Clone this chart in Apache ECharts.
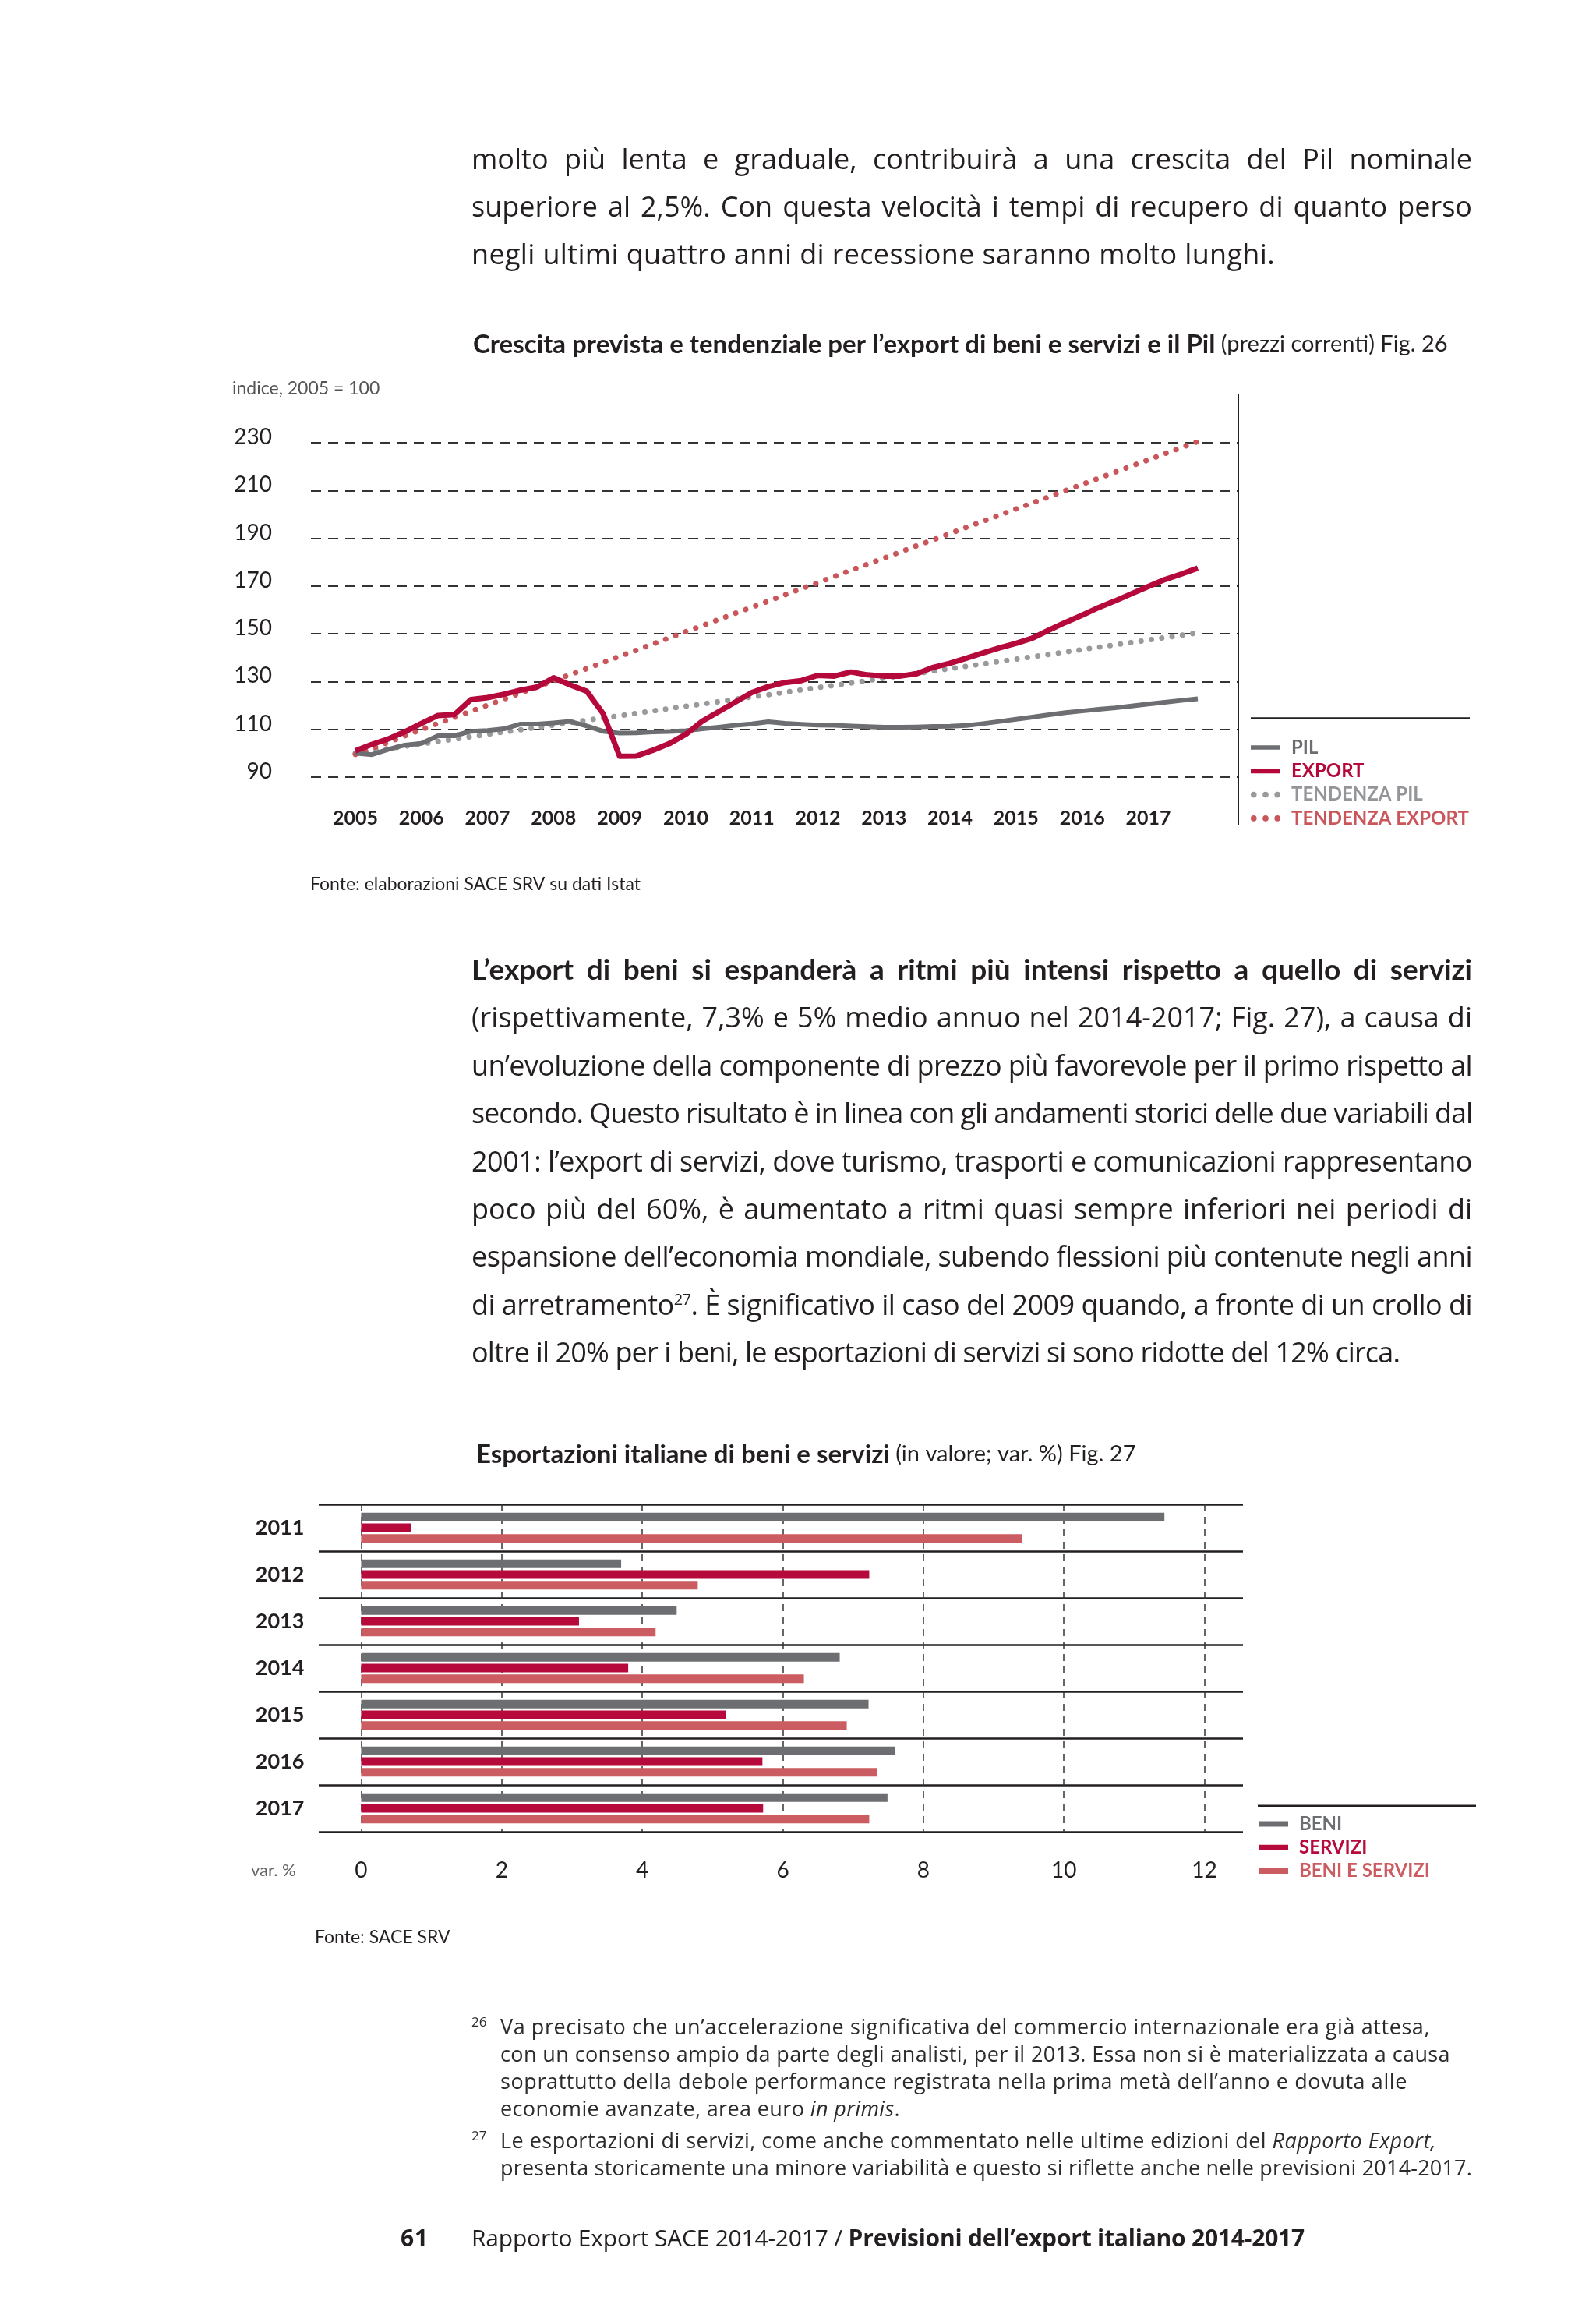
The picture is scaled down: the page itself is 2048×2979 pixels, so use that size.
<!DOCTYPE html>
<html>
<head>
<meta charset="utf-8">
<script src="https://cdn.jsdelivr.net/npm/echarts/dist/echarts.min.js"></script>
<style>
  html, body { margin:0; padding:0; background:#ffffff; }
  body { width:2048px; height:2979px; position:relative; overflow:hidden; font-family: "Open Sans", Lato, sans-serif; color:#231f20; }
  #c { position:absolute; left:0; top:0; width:2048px; height:2979px; z-index:0; }
  .ln { position:absolute; white-space:pre; z-index:2; line-height:1.3; }
  .bl { display:inline-block; width:0; height:0; vertical-align:baseline; }
  .p { font-size:36px; }
  .pb { font-family: Lato, "Open Sans", sans-serif; font-size:37px; font-weight:bold; }
  .fn { font-size:27px; color:#2b2b2b; }
  .sp { font-size:17px; color:#2b2b2b; }
  .ft { font-size:30px; }
  sup { font-size:20px; vertical-align:13px; line-height:0; }
</style>
</head>
<body>
<div id="c"></div>

<div class="ln p j" style="left:605px" data-b="217" data-w="1284"><span class="bl"></span>molto più lenta e graduale, contribuirà a una crescita del Pil nominale</div>
<div class="ln p j" style="left:605px" data-b="278" data-w="1284"><span class="bl"></span>superiore al 2,5%. Con questa velocità i tempi di recupero di quanto perso</div>
<div class="ln p" style="left:605px" data-b="339" data-w="1031"><span class="bl"></span>negli ultimi quattro anni di recessione saranno molto lunghi.</div>

<div class="ln pb j" style="left:605px" data-b="1257" data-w="1284"><span class="bl"></span>L’export di beni si espanderà a ritmi più intensi rispetto a quello di servizi</div>
<div class="ln p j" style="left:605px" data-b="1318.4" data-w="1284"><span class="bl"></span>(rispettivamente, 7,3% e 5% medio annuo nel 2014-2017; Fig. 27), a causa di</div>
<div class="ln p j" style="left:605px" data-b="1379.8" data-w="1284"><span class="bl"></span>un’evoluzione della componente di prezzo più favorevole per il primo rispetto al</div>
<div class="ln p j" style="left:605px" data-b="1441.2" data-w="1284"><span class="bl"></span>secondo. Questo risultato è in linea con gli andamenti storici delle due variabili dal</div>
<div class="ln p j" style="left:605px" data-b="1502.6" data-w="1284"><span class="bl"></span>2001: l’export di servizi, dove turismo, trasporti e comunicazioni rappresentano</div>
<div class="ln p j" style="left:605px" data-b="1564" data-w="1284"><span class="bl"></span>poco più del 60%, è aumentato a ritmi quasi sempre inferiori nei periodi di</div>
<div class="ln p j" style="left:605px" data-b="1625.4" data-w="1284"><span class="bl"></span>espansione dell’economia mondiale, subendo flessioni più contenute negli anni</div>
<div class="ln p j" style="left:605px" data-b="1686.8" data-w="1284"><span class="bl"></span>di arretramento<sup>27</sup>. È significativo il caso del 2009 quando, a fronte di un crollo di</div>
<div class="ln p" style="left:605px" data-b="1748.2" data-w="1191"><span class="bl"></span>oltre il 20% per i beni, le esportazioni di servizi si sono ridotte del 12% circa.</div>

<div class="ln sp" style="left:605px" data-b="2600"><span class="bl"></span>26</div>
<div class="ln fn" style="left:642px" data-b="2610" data-w="1193"><span class="bl"></span>Va precisato che un’accelerazione significativa del commercio internazionale era già attesa,</div>
<div class="ln fn" style="left:642px" data-b="2645" data-w="1219"><span class="bl"></span>con un consenso ampio da parte degli analisti, per il 2013. Essa non si è materializzata a causa</div>
<div class="ln fn" style="left:642px" data-b="2680" data-w="1164"><span class="bl"></span>soprattutto della debole performance registrata nella prima metà dell’anno e dovuta alle</div>
<div class="ln fn" style="left:642px" data-b="2715" data-w="513"><span class="bl"></span>economie avanzate, area euro <i>in primis</i>.</div>
<div class="ln sp" style="left:605px" data-b="2746"><span class="bl"></span>27</div>
<div class="ln fn" style="left:642px" data-b="2756" data-w="1201"><span class="bl"></span>Le esportazioni di servizi, come anche commentato nelle ultime edizioni del <i>Rapporto Export,</i></div>
<div class="ln fn" style="left:642px" data-b="2791" data-w="1247"><span class="bl"></span>presenta storicamente una minore variabilità e questo si riflette anche nelle previsioni 2014-2017.</div>

<div class="ln ft" style="left:514px;font-weight:bold" data-b="2882" data-w="36"><span class="bl"></span>61</div>
<div class="ln ft" style="left:605px" data-b="2882" data-w="1069"><span class="bl"></span>Rapporto Export SACE 2014-2017 / <b>Previsioni dell’export italiano 2014-2017</b></div>

<script>
// ---------- DATA ----------
const years = ['2005','2006','2007','2008','2009','2010','2011','2012','2013','2014','2015','2016','2017'];
const quarterNames = ['T1','T2','T3','T4'];
const quarters = [];
years.forEach(y => quarterNames.forEach(q => quarters.push(y + ' ' + q)));

const pil = [100.0, 99.4, 101.6, 103.4, 104.1, 107.3, 107.3, 109.2, 109.5, 110.2,
  112.2, 112.2, 112.7, 113.3, 111.4, 109.2, 108.4, 108.5, 108.9, 109.1,
  109.4, 110.2, 110.9, 111.7, 112.3, 113.2, 112.5, 112.1, 111.8, 111.7,
  111.4, 111.1, 110.9, 110.9, 111.0, 111.2, 111.3, 111.6, 112.4, 113.3,
  114.2, 115.1, 116.1, 117.0, 117.7, 118.4, 119.0, 119.8, 120.6, 121.3,
  122.1, 122.8];
const exportIdx = [101.0, 103.7, 106.0, 109.0, 112.5, 115.8, 116.2, 122.5, 123.3, 124.7,
  126.4, 127.7, 131.6, 128.6, 126.0, 116.6, 98.7, 98.8, 101.2, 104.0,
  107.9, 113.4, 117.4, 121.4, 125.4, 127.9, 129.6, 130.4, 132.6, 132.3,
  134.0, 132.8, 132.3, 132.3, 133.3, 136.0, 137.7, 139.8, 142.0, 144.1,
  146.0, 148.2, 151.6, 154.8, 157.8, 161.0, 163.8, 166.8, 169.8, 172.7,
  175.0, 177.5];
const tendenzaPil = [100.0, 100.9, 101.9, 102.9, 103.9, 104.9, 105.9, 106.9, 107.9, 108.9,
  109.8, 110.8, 111.8, 112.8, 113.8, 114.8, 115.7, 116.7, 117.7, 118.7,
  119.7, 120.6, 121.6, 122.6, 123.6, 124.5, 125.5, 126.5, 127.5, 128.4,
  129.4, 130.4, 131.4, 132.4, 133.4, 134.4, 135.4, 136.4, 137.4, 138.4,
  139.4, 140.4, 141.4, 142.4, 143.4, 144.4, 145.4, 146.4, 147.4, 148.4,
  149.4, 150.4];
const tendenzaExport = [99.5, 102.0, 104.6, 107.3, 109.9, 112.5, 115.0, 117.6, 120.1, 122.7,
  125.2, 127.8, 130.3, 132.9, 135.4, 138.0, 140.6, 143.1, 145.7, 148.3,
  150.9, 153.4, 156.0, 158.6, 161.1, 163.7, 166.3, 168.9, 171.4, 174.0,
  176.6, 179.1, 181.7, 184.3, 186.9, 189.4, 192.0, 194.6, 197.1, 199.7,
  202.3, 204.8, 207.4, 210.0, 212.6, 215.1, 217.7, 220.3, 222.8, 225.4,
  228.0, 230.5];
const lineAxisMin = 90, lineAxisMax = 230, lineAxisStep = 20;

const barYears = ['2011','2012','2013','2014','2015','2016','2017'];
const beni = [11.43, 3.70, 4.49, 6.81, 7.22, 7.60, 7.49];
const servizi = [0.71, 7.23, 3.10, 3.80, 5.19, 5.71, 5.72];
const beniServizi = [9.41, 4.79, 4.19, 6.30, 6.91, 7.34, 7.23];
const barAxisMin = 0, barAxisMax = 12, barAxisStep = 2;

// ---------- STYLE ----------
const FF = 'Lato, "Open Sans", sans-serif';
const TXT = '#231f20';
const C_PIL = '#6d6e71', C_EXP = '#b5083b', C_TPIL = '#9a9a9c', C_TEXP = '#c9565a';
const C_BENI = '#6d6e71', C_SERV = '#b70a3c', C_BS = '#cb5c61';
const ICON_SOLID = 'path://M0,0M0,8M0,1L40,1L40,7L0,7Z';
const ICON_DOTS = 'path://M0,4a4,4 0 1,0 8,0a4,4 0 1,0 -8,0ZM16,4a4,4 0 1,0 8,0a4,4 0 1,0 -8,0ZM32,4a4,4 0 1,0 8,0a4,4 0 1,0 -8,0Z';

const chart = echarts.init(document.getElementById('c'), null, {renderer: 'canvas'});

const option = {
  animation: false,
  backgroundColor: 'transparent',
  textStyle: { fontFamily: FF },
  title: [
    { left: 607, top: 424, padding: 0,
      text: '{b|Crescita prevista e tendenziale per l’export di beni e servizi e il Pil}{r| (prezzi correnti) Fig. 26}',
      textStyle: { fontWeight: 'normal', rich: {
        b: { fontFamily: FF, fontWeight: 'bold', fontSize: 33, color: TXT, lineHeight: 36 },
        r: { fontFamily: FF, fontWeight: 'normal', fontSize: 29, color: TXT, lineHeight: 36 } } } },
    { left: 298, top: 485.5, padding: 0, text: 'indice, 2005 = 100',
      textStyle: { fontFamily: FF, fontSize: 23, fontWeight: 'normal', color: '#555', lineHeight: 26 } },
    { left: 398, top: 1122, padding: 0, text: 'Fonte: elaborazioni SACE SRV su dati Istat',
      textStyle: { fontFamily: FF, fontSize: 23, fontWeight: 'normal', color: TXT, lineHeight: 26 } },
    { left: 611, top: 1848, padding: 0,
      text: '{b|Esportazioni italiane di beni e servizi}{r| (in valore; var. %) Fig. 27}',
      textStyle: { fontWeight: 'normal', rich: {
        b: { fontFamily: FF, fontWeight: 'bold', fontSize: 33, color: TXT, lineHeight: 36 },
        r: { fontFamily: FF, fontWeight: 'normal', fontSize: 29, color: TXT, lineHeight: 36 } } } },
    { left: 404, top: 2473, padding: 0, text: 'Fonte: SACE SRV',
      textStyle: { fontFamily: FF, fontSize: 23, fontWeight: 'normal', color: TXT, lineHeight: 26 } },
    { left: 322, top: 2387, padding: 0, text: 'var. %',
      textStyle: { fontFamily: FF, fontSize: 22, fontWeight: 'normal', color: '#666', lineHeight: 26 } }
  ],
  grid: [
    { left: 399, top: 568, width: 1190, height: 429 },
    { left: 456, top: 568, width: 1081, height: 429 },
    { left: 409, top: 1930, width: 1186, height: 420 },
    { left: 463.4, top: 1930, width: 1082.2, height: 420 }
  ],
  xAxis: [
    { gridIndex: 0, type: 'value', min: 0, max: 1, show: false },
    { gridIndex: 1, type: 'category', data: quarters, boundaryGap: false,
      axisLine: { show: false }, axisTick: { show: false }, splitLine: { show: false },
      axisLabel: { interval: 3, formatter: v => v.slice(0, 4), fontFamily: FF, fontSize: 25,
        fontWeight: 'bold', color: TXT, margin: 40 } },
    { gridIndex: 2, type: 'value', min: 0, max: 1, show: false },
    { gridIndex: 3, type: 'value', min: barAxisMin, max: barAxisMax, interval: barAxisStep,
      axisLine: { show: false }, axisTick: { show: false },
      splitLine: { show: true, lineStyle: { type: [9, 7], color: '#333', width: 1.5 } },
      axisLabel: { fontFamily: FF, fontSize: 28, color: TXT, margin: 36 } }
  ],
  yAxis: [
    { gridIndex: 0, type: 'value', min: lineAxisMin, max: lineAxisMax, interval: lineAxisStep,
      axisLine: { show: false }, axisTick: { show: false },
      splitLine: { show: true, lineStyle: { type: [13, 9], color: '#333', width: 2 } },
      axisLabel: { fontFamily: FF, fontSize: 28, color: TXT, margin: 50, verticalAlign: 'bottom', lineHeight: 14 } },
    { gridIndex: 1, type: 'value', min: lineAxisMin, max: lineAxisMax, show: false },
    { gridIndex: 2, type: 'value', min: 0, max: 7, interval: 1,
      axisLine: { show: false }, axisTick: { show: false }, axisLabel: { show: false },
      splitLine: { show: true, lineStyle: { type: 'solid', color: TXT, width: 2.5 } } },
    { gridIndex: 3, type: 'category', data: barYears, inverse: true,
      axisLine: { show: false }, axisTick: { show: false }, splitLine: { show: false },
      axisLabel: { fontFamily: FF, fontSize: 27, fontWeight: 'bold', color: TXT, margin: 73 } }
  ],
  legend: [
    { left: 1605, top: 947, orient: 'vertical', padding: 0, itemWidth: 38, itemHeight: 8, itemGap: 6.3,
      selectedMode: false,
      textStyle: { fontFamily: FF, fontSize: 24, fontWeight: 'bold', lineHeight: 24, padding: [0, 0, 0, 9] },
      data: [
        { name: 'PIL', icon: ICON_SOLID, textStyle: { color: C_PIL } },
        { name: 'EXPORT', icon: ICON_SOLID, textStyle: { color: C_EXP } },
        { name: 'TENDENZA PIL', icon: ICON_DOTS, textStyle: { color: '#939598' } },
        { name: 'TENDENZA EXPORT', icon: ICON_DOTS, textStyle: { color: C_TEXP } }
      ] },
    { left: 1616, top: 2328, orient: 'vertical', padding: 0, itemWidth: 37, itemHeight: 7, itemGap: 6.3,
      icon: 'rect', selectedMode: false,
      textStyle: { fontFamily: FF, fontSize: 24, fontWeight: 'bold', lineHeight: 24, padding: [0, 0, 0, 9] },
      data: [
        { name: 'BENI', textStyle: { color: C_BENI } },
        { name: 'SERVIZI', textStyle: { color: C_SERV } },
        { name: 'BENI E SERVIZI', textStyle: { color: C_BS } }
      ] }
  ],
  graphic: [
    { type: 'line', shape: { x1: 1589, y1: 506, x2: 1589, y2: 1058 }, style: { stroke: TXT, lineWidth: 2 } },
    { type: 'line', shape: { x1: 1605, y1: 921.5, x2: 1886, y2: 921.5 }, style: { stroke: TXT, lineWidth: 2.5 } },
    { type: 'line', shape: { x1: 1614, y1: 2316.7, x2: 1894, y2: 2316.7 }, style: { stroke: TXT, lineWidth: 2.5 } }
  ],
  series: [
    { name: 'TENDENZA PIL', type: 'line', xAxisIndex: 1, yAxisIndex: 1, data: tendenzaPil,
      symbol: 'none', showSymbol: false, z: 2, itemStyle: { color: C_TPIL },
      lineStyle: { color: C_TPIL, width: 7, type: [0.1, 13.3], cap: 'round' } },
    { name: 'TENDENZA EXPORT', type: 'line', xAxisIndex: 1, yAxisIndex: 1, data: tendenzaExport,
      symbol: 'none', showSymbol: false, z: 3, itemStyle: { color: C_TEXP },
      lineStyle: { color: C_TEXP, width: 7, type: [0.1, 13.6], cap: 'round' } },
    { name: 'PIL', type: 'line', xAxisIndex: 1, yAxisIndex: 1, data: pil,
      symbol: 'none', showSymbol: false, z: 4, itemStyle: { color: C_PIL },
      lineStyle: { color: C_PIL, width: 6, join: 'round' } },
    { name: 'EXPORT', type: 'line', xAxisIndex: 1, yAxisIndex: 1, data: exportIdx,
      symbol: 'none', showSymbol: false, z: 5, itemStyle: { color: C_EXP },
      lineStyle: { color: C_EXP, width: 7, join: 'round' } },
    { name: 'BENI', type: 'bar', xAxisIndex: 3, yAxisIndex: 3, data: beni,
      barWidth: 11, barGap: '25%', itemStyle: { color: C_BENI } },
    { name: 'SERVIZI', type: 'bar', xAxisIndex: 3, yAxisIndex: 3, data: servizi,
      barWidth: 11, barGap: '25%', itemStyle: { color: C_SERV } },
    { name: 'BENI E SERVIZI', type: 'bar', xAxisIndex: 3, yAxisIndex: 3, data: beniServizi,
      barWidth: 11, barGap: '25%', itemStyle: { color: C_BS } }
  ]
};
chart.setOption(option);

// ---------- TEXT LAYOUT (fit lines to the page's measure) ----------
function layoutText() {
  document.querySelectorAll('.ln').forEach(el => {
    el.style.letterSpacing = '0px';
    el.style.wordSpacing = '0px';
    const w = el.getBoundingClientRect().width;
    const target = parseFloat(el.dataset.w || '0');
    const txt = el.textContent;
    if (target > 0) {
      const extra = target - w;
      if (el.classList.contains('j')) {
        const spaces = (txt.match(/ /g) || []).length;
        if (extra >= 0 && spaces) el.style.wordSpacing = (extra / spaces) + 'px';
        else el.style.letterSpacing = (extra / txt.length) + 'px';
      } else {
        el.style.letterSpacing = (extra / txt.length) + 'px';
      }
    }
    const probe = el.querySelector('.bl');
    el.style.top = '0px';
    const off = probe.offsetTop;
    el.style.top = (parseFloat(el.dataset.b) - off) + 'px';
  });
}
layoutText();
if (document.fonts && document.fonts.ready) document.fonts.ready.then(layoutText);
</script>
</body>
</html>
